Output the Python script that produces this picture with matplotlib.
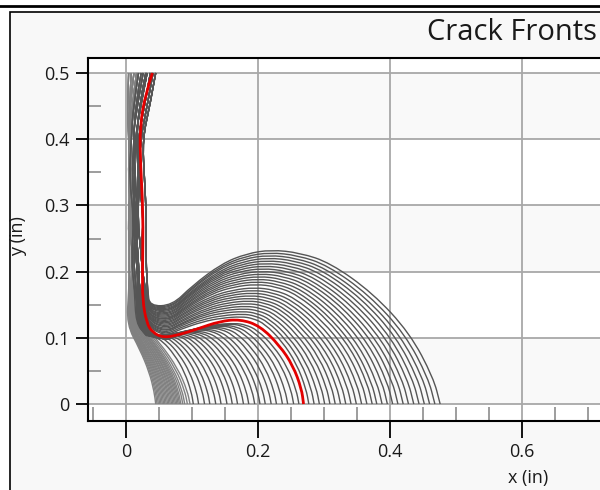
import numpy as np
import matplotlib
matplotlib.use("Agg")
import matplotlib.pyplot as plt
from matplotlib.path import Path
from matplotlib.patches import PathPatch, Rectangle
from matplotlib.lines import Line2D
from matplotlib.ticker import FixedLocator

plt.rcParams['font.family'] = ['Open Sans', 'DejaVu Sans']

TITLE = "Crack Fronts"
X_LABEL = "x (in)"
Y_LABEL = "y (in)"
X_TICKS = [0, 0.2, 0.4, 0.6]
X_TICK_LABELS = ["0", "0.2", "0.4", "0.6"]
Y_TICKS = [0, 0.1, 0.2, 0.3, 0.4, 0.5]
Y_TICK_LABELS = ["0", "0.1", "0.2", "0.3", "0.4", "0.5"]
X_MINOR = [-0.05, 0.05, 0.1, 0.15, 0.25, 0.3, 0.35, 0.45, 0.5, 0.55, 0.65, 0.7]
Y_MINOR = [0.05, 0.15, 0.25, 0.35, 0.45]

# y levels of the near-vertical upper part of every front, and the x paths read there
Y_BAND = [0.50, 0.45, 0.40, 0.34, 0.28, 0.22, 0.17]
BAND_PATTERNS = [
    [0.004, 0.002, 0.004, 0.007, 0.003, 0.006, 0.004],
    [0.012, 0.006, 0.003, 0.010, 0.006, 0.010, 0.009],
    [0.019, 0.011, 0.008, 0.005, 0.012, 0.008, 0.013],
    [0.026, 0.017, 0.010, 0.015, 0.010, 0.016, 0.018],
    [0.032, 0.022, 0.014, 0.012, 0.020, 0.014, 0.022],
    [0.037, 0.028, 0.018, 0.021, 0.017, 0.024, 0.026],
    [0.041, 0.032, 0.022, 0.019, 0.027, 0.022, 0.030],
    [0.045, 0.036, 0.025, 0.028, 0.031, 0.030, 0.033],
    [0.008, 0.005, 0.006, 0.003, 0.008, 0.004, 0.007],
    [0.016, 0.009, 0.005, 0.012, 0.008, 0.013, 0.011],
    [0.023, 0.014, 0.012, 0.009, 0.015, 0.011, 0.016],
    [0.030, 0.020, 0.016, 0.019, 0.013, 0.019, 0.020],
]

# early fronts: corner where they leave the band, and x where they reach y = 0
A_BOT = [0.045, 0.047, 0.049, 0.051, 0.053, 0.055, 0.057, 0.059, 0.061, 0.063, 0.065, 0.067,
         0.069, 0.071, 0.073, 0.075, 0.077, 0.079, 0.081, 0.083, 0.086, 0.089, 0.093, 0.097]
A_CX = [0.001, 0.002, 0.002, 0.003, 0.003, 0.004, 0.004, 0.005, 0.005, 0.006, 0.007, 0.007,
        0.008, 0.008, 0.009, 0.009, 0.010, 0.011, 0.011, 0.012, 0.012, 0.013, 0.014, 0.015]
A_CY = [0.120, 0.120, 0.121, 0.121, 0.122, 0.122, 0.123, 0.123, 0.124, 0.124, 0.125, 0.125,
        0.126, 0.126, 0.127, 0.127, 0.128, 0.128, 0.129, 0.130, 0.130, 0.131, 0.132, 0.133]
A_BAND = [0, 8, 1, 9, 2, 0, 8, 1, 9, 2, 0, 8, 1, 9, 2, 0, 8, 1, 9, 2, 10, 1, 9, 2]
A_DESC_U = [0.45, 0.78, 0.95, 1.0]
A_DESC_V = [0.69, 0.40, 0.15, 0.0]

# middle fronts (before the red one)
B_BOT = [0.102, 0.110, 0.119, 0.127, 0.136, 0.144, 0.153, 0.161, 0.169, 0.178,
         0.186, 0.195, 0.203, 0.211, 0.220, 0.228, 0.237, 0.245, 0.254, 0.262]
B_CX = [0.015, 0.016, 0.016, 0.017, 0.018, 0.018, 0.019, 0.019, 0.020, 0.021,
        0.021, 0.022, 0.023, 0.023, 0.024, 0.024, 0.025, 0.026, 0.026, 0.027]
B_CY = [0.122, 0.122, 0.122, 0.122, 0.121, 0.121, 0.121, 0.121, 0.121, 0.121,
        0.121, 0.121, 0.121, 0.120, 0.120, 0.120, 0.120, 0.120, 0.120, 0.120]
B_TX = [0.030, 0.031, 0.033, 0.034, 0.036, 0.037, 0.039, 0.040, 0.041, 0.043,
        0.044, 0.046, 0.047, 0.048, 0.050, 0.051, 0.053, 0.054, 0.056, 0.057]
B_TY = [0.104, 0.103, 0.103, 0.102, 0.102, 0.101, 0.101, 0.100, 0.100, 0.099,
        0.099, 0.098, 0.098, 0.097, 0.097, 0.096, 0.096, 0.095, 0.095, 0.094]
B_PX = [0.030, 0.037, 0.044, 0.051, 0.058, 0.066, 0.073, 0.080, 0.087, 0.094,
        0.101, 0.108, 0.115, 0.122, 0.129, 0.137, 0.144, 0.151, 0.158, 0.165]
B_PY = [0.104, 0.104, 0.104, 0.104, 0.104, 0.105, 0.105, 0.106, 0.107, 0.108,
        0.109, 0.110, 0.112, 0.113, 0.115, 0.116, 0.118, 0.119, 0.121, 0.122]
B_BAND = [2, 10, 3, 11, 4, 5, 10, 3, 11, 4, 2, 10, 3, 11, 4, 5, 3, 11, 4, 5]

# late fronts (after the red one)
C_BOT = [0.277, 0.285, 0.293, 0.301, 0.309, 0.317, 0.325, 0.333, 0.341, 0.349, 0.357, 0.365, 0.373,
         0.380, 0.388, 0.396, 0.404, 0.412, 0.420, 0.428, 0.436, 0.444, 0.452, 0.460, 0.468, 0.476]
C_CX = [0.028, 0.029, 0.029, 0.029, 0.030, 0.030, 0.030, 0.030, 0.031, 0.031, 0.031, 0.032, 0.032,
        0.032, 0.033, 0.033, 0.033, 0.034, 0.034, 0.034, 0.034, 0.035, 0.035, 0.035, 0.036, 0.036]
C_CY = [0.121, 0.122, 0.123, 0.124, 0.125, 0.126, 0.128, 0.129, 0.130, 0.131, 0.132, 0.133, 0.134,
        0.135, 0.136, 0.137, 0.138, 0.139, 0.140, 0.142, 0.143, 0.144, 0.145, 0.146, 0.147, 0.148]
C_TX = [0.058, 0.058, 0.058, 0.059, 0.060, 0.060, 0.061, 0.061, 0.062, 0.062, 0.063, 0.063, 0.064,
        0.064, 0.065, 0.065, 0.066, 0.066, 0.067, 0.067, 0.068, 0.068, 0.069, 0.069, 0.070, 0.070]
C_TY = [0.102, 0.104, 0.106, 0.108, 0.109, 0.111, 0.113, 0.115, 0.117, 0.119, 0.121, 0.123, 0.125,
        0.126, 0.128, 0.130, 0.132, 0.134, 0.136, 0.138, 0.140, 0.141, 0.143, 0.145, 0.147, 0.149]
C_PX = [0.175, 0.177, 0.178, 0.180, 0.182, 0.184, 0.186, 0.187, 0.189, 0.191, 0.193, 0.195, 0.197,
        0.198, 0.200, 0.202, 0.204, 0.206, 0.207, 0.209, 0.211, 0.213, 0.215, 0.216, 0.218, 0.220]
C_PY = [0.132, 0.136, 0.140, 0.144, 0.148, 0.152, 0.156, 0.160, 0.164, 0.168, 0.172, 0.176, 0.181,
        0.185, 0.189, 0.193, 0.197, 0.201, 0.205, 0.209, 0.213, 0.217, 0.221, 0.225, 0.229, 0.233]
C_BAND = [11, 5, 6, 7, 4, 5, 6, 7, 11, 5, 6, 7, 4, 5, 6, 7, 11, 5, 6, 7, 4, 5, 6, 7, 6, 7]

# shape: rise from trough to peak, fall from peak to y = 0
RISE_U = [0.0, 0.2, 0.5, 0.75, 1.0]
RISE_V = [0.0, 0.35, 0.75, 0.93, 1.0]
DESC_U = [0.17, 0.35, 0.6, 0.82, 0.96, 1.0]
DESC_V = [0.98, 0.915, 0.72, 0.46, 0.17, 0.0]

# highlighted (red) front
RED_X = [0.040, 0.030, 0.021, 0.022, 0.026, 0.025, 0.025, 0.031, 0.040, 0.057, 0.082, 0.107,
         0.142, 0.173, 0.203, 0.233, 0.253, 0.266, 0.269]
RED_Y = [0.500, 0.470, 0.420, 0.360, 0.290, 0.200, 0.158, 0.123, 0.108, 0.100, 0.105, 0.113,
         0.125, 0.128, 0.118, 0.088, 0.058, 0.023, 0.000]

GRAY_EARLY = '#808080'
GRAY = '#555555'
RED = '#e30000'


def smooth_path(xs, ys):
    pts = np.column_stack([xs, ys])
    verts = [pts[0]]
    codes = [Path.MOVETO]
    for i in range(1, len(pts) - 1):
        verts += [pts[i], (pts[i] + pts[i + 1]) / 2]
        codes += [Path.CURVE3, Path.CURVE3]
    verts.append(pts[-1])
    codes.append(Path.LINETO)
    return Path(verts, codes)


def band_part(k):
    return list(BAND_PATTERNS[k]), list(Y_BAND)


def hump_front(k, cx, cy, tx, ty, px, py, b):
    xs, ys = band_part(k)
    xs.append(cx); ys.append(cy)
    for u, v in zip(RISE_U, RISE_V):
        xs.append(tx + u * (px - tx)); ys.append(ty + v * (py - ty))
    for u, v in zip(DESC_U, DESC_V):
        xs.append(px + u * (b - px)); ys.append(v * py)
    return xs, ys


def early_front(k, cx, cy, b):
    xs, ys = band_part(k)
    xs.append(cx); ys.append(cy)
    for u, v in zip(A_DESC_U, A_DESC_V):
        xs.append(cx + u * (b - cx)); ys.append(v * cy)
    return xs, ys


fig = plt.figure(figsize=(6, 4.9), dpi=100)
fig.patch.set_facecolor('white')
fig.patches.append(Rectangle((10 / 600, -0.1), 1.2, 1.1 - 12 / 490, transform=fig.transFigure,
                             facecolor='#f8f8f8', edgecolor='black', lw=1.2, zorder=-10))
fig.add_artist(Line2D([0, 1], [1 - 6 / 490] * 2, color='black', lw=2.0, transform=fig.transFigure))

x0_px, xs_px = 126.0, 660.0  # pixel of x=0, pixels per unit
y0_px, ys_px = 404.0, 662.0
ax_l, ax_r, ax_t, ax_b = 87.5, 614.0, 58.0, 420.5
ax = fig.add_axes([ax_l / 600, (490 - ax_b) / 490, (ax_r - ax_l) / 600, (ax_b - ax_t) / 490])
ax.set_xlim((ax_l - x0_px) / xs_px, (ax_r - x0_px) / xs_px)
ax.set_ylim((y0_px - ax_b) / ys_px, (y0_px - ax_t) / ys_px)
ax.set_facecolor('white')
for lo in (0.0, 0.2, 0.4):
    ax.axhspan(lo, lo + 0.1, color='#f9f9f9', zorder=0, lw=0)

ax.set_axisbelow(True)
ax.xaxis.set_major_locator(FixedLocator(X_TICKS))
ax.yaxis.set_major_locator(FixedLocator(Y_TICKS))
ax.set_xticklabels(X_TICK_LABELS)
ax.set_yticklabels(Y_TICK_LABELS)
ax.xaxis.set_minor_locator(FixedLocator(X_MINOR))
ax.yaxis.set_minor_locator(FixedLocator(Y_MINOR))
ax.grid(True, which='major', color='#a8a8a8', lw=1.3, zorder=0.5)
ax.tick_params(axis='both', which='major', direction='out', color='black', width=1.3,
               labelsize=13, labelcolor='#1a1a1a')
ax.tick_params(axis='y', which='major', length=9, pad=4)
ax.tick_params(axis='x', which='major', length=12, pad=4)
ax.tick_params(axis='both', which='minor', direction='in', color='#8c8c8c', width=1.2)
ax.tick_params(axis='x', which='minor', length=10)
ax.tick_params(axis='y', which='minor', length=9)
for s in ('left', 'bottom', 'top'):
    ax.spines[s].set_color('black')
    ax.spines[s].set_linewidth(1.5)
ax.spines['right'].set_visible(False)

for i in range(len(A_BOT)):
    xs, ys = early_front(A_BAND[i], A_CX[i], A_CY[i], A_BOT[i])
    ax.add_patch(PathPatch(smooth_path(xs, ys), fill=False, edgecolor=GRAY_EARLY, lw=1.0, zorder=2))
for i in range(len(B_BOT)):
    xs, ys = hump_front(B_BAND[i], B_CX[i], B_CY[i], B_TX[i], B_TY[i], B_PX[i], B_PY[i], B_BOT[i])
    ax.add_patch(PathPatch(smooth_path(xs, ys), fill=False, edgecolor=GRAY, lw=1.0, zorder=2))
for i in range(len(C_BOT)):
    xs, ys = hump_front(C_BAND[i], C_CX[i], C_CY[i], C_TX[i], C_TY[i], C_PX[i], C_PY[i], C_BOT[i])
    ax.add_patch(PathPatch(smooth_path(xs, ys), fill=False, edgecolor=GRAY, lw=1.0, zorder=3))
ax.add_patch(PathPatch(smooth_path(RED_X, RED_Y), fill=False, edgecolor=RED, lw=2.0, zorder=4))

fig.text(597 / 600, 1 - 33 / 490, TITLE, ha='right', va='center', fontsize=21, color='#1a1a1a')
fig.text(528 / 600, 1 - 478 / 490, X_LABEL, ha='center', va='center', fontsize=13, color='#1a1a1a')
fig.text(18 / 600, 1 - 236 / 490, Y_LABEL, ha='center', va='center', rotation=90, fontsize=13,
         color='#1a1a1a')

fig.savefig('out.png', dpi=100, facecolor=fig.get_facecolor())
